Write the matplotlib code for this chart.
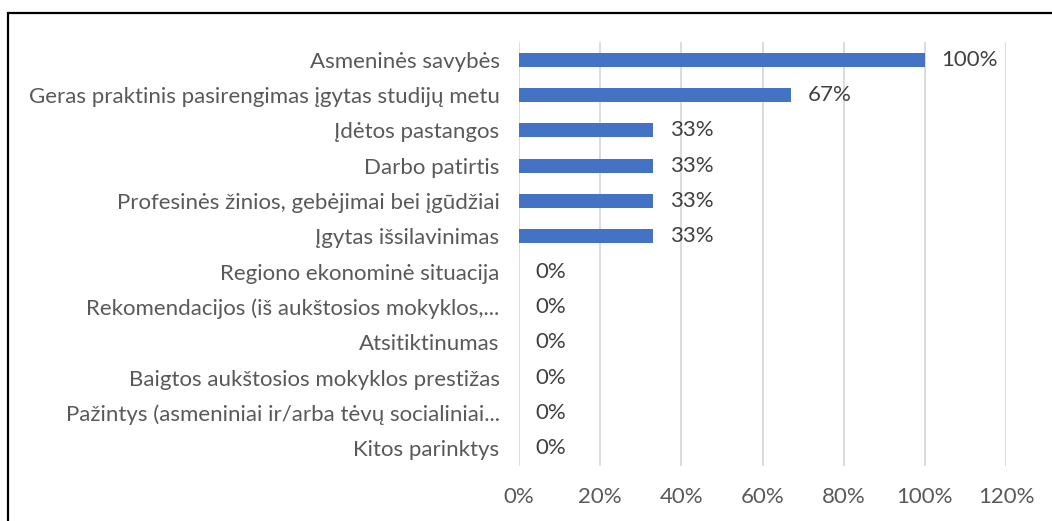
import matplotlib
matplotlib.use("Agg")
import matplotlib.pyplot as plt
from matplotlib.patches import Rectangle
from matplotlib.ticker import FuncFormatter

categories = [
    "Asmeninės savybės",
    "Geras praktinis pasirengimas įgytas studijų metu",
    "Įdėtos pastangos",
    "Darbo patirtis",
    "Profesinės žinios, gebėjimai bei įgūdžiai",
    "Įgytas išsilavinimas",
    "Regiono ekonominė situacija",
    "Rekomendacijos (iš aukštosios mokyklos,...",
    "Atsitiktinumas",
    "Baigtos aukštosios mokyklos prestižas",
    "Pažintys (asmeniniai ir/arba tėvų socialiniai...",
    "Kitos parinktys",
]
values = [100, 67, 33, 33, 33, 33, 0, 0, 0, 0, 0, 0]
xticks = [0, 20, 40, 60, 80, 100, 120]

plt.rcParams['font.family'] = ['Lato', 'DejaVu Sans']
W, H = 1052, 521
fig = plt.figure(figsize=(W/100, H/100), dpi=100)
ax = fig.add_axes([519/W, 1-466/H, (1006-519)/W, (466-42)/H])

FS = 16
ypos = list(range(len(categories)))
ax.barh(ypos, values, height=0.4, color="#4472C4", zorder=3)
ax.set_ylim(len(categories)-0.5, -0.5)
ax.set_xlim(0, 120)
ax.set_xticks(xticks)
ax.xaxis.set_major_formatter(FuncFormatter(lambda v, p: f"{v:.0f}%"))
ax.set_yticks(ypos)
ax.set_yticklabels(categories)
ax.tick_params(axis='y', length=0, pad=14, labelsize=FS, labelcolor="#595959")
ax.tick_params(axis='x', length=0, pad=15, labelsize=FS, labelcolor="#595959")
ax.grid(axis='x', color="#D9D9D9", linewidth=1.3, zorder=0)
for s in ax.spines.values():
    s.set_visible(False)

for y, v in zip(ypos, values):
    ax.annotate(f"{v}%", (v, y), xytext=(12, 0), textcoords="offset points",
                va="center", ha="left", fontsize=FS, color="#404040")

fig.patches.append(Rectangle((8/W, -0.1), 1.2, 1.1 - 13/H, transform=fig.transFigure,
                             fill=False, edgecolor="black", linewidth=1.6))

fig.savefig("out.png", dpi=100)
